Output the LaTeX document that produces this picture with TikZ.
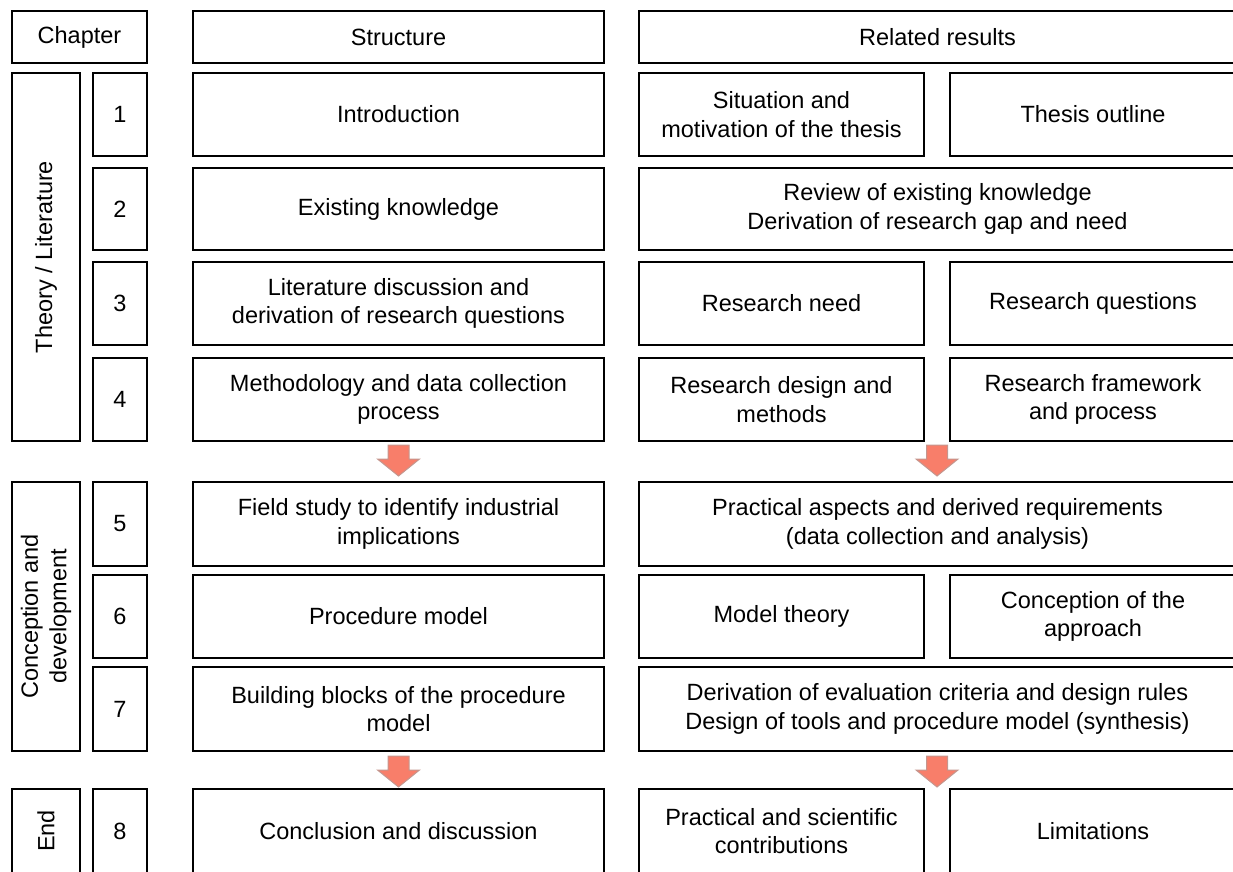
\documentclass[tikz,border=0pt]{standalone}
\usepackage{fontspec}
\setmainfont{Liberation Sans}
\begin{document}
\begin{tikzpicture}[x=1pt,y=-1pt,
  cellbox/.style={draw=black, line width=2.3pt, inner sep=0pt, align=center,
    font=\fontsize{23.5}{28.5}\selectfont},
  blockarrow/.style={fill={rgb,255:red,248;green,126;blue,106},
    draw={rgb,255:red,196;green,150;blue,142}, line width=1pt, line join=miter}]
\useasboundingbox (0,0) rectangle (1233,871);
\clip (0,0) rectangle (1233,871);

% cell{name}{x1}{y1}{x2}{y2}{text}
\newcommand\cell[6]{%
  \node[cellbox, minimum width={#4-#2}, minimum height={#5-#3}]
    (#1) at ({(#2+#4)/2},{(#3+#5)/2}) {#6};}
% vertical category box: text runs bottom to top
\newcommand\vcell[6]{%
  \node[cellbox, rotate=90, minimum width={#5-#3}, minimum height={#4-#2}]
    (#1) at ({(#2+#4)/2},{(#3+#5)/2}) {#6};}
% block arrow pointing down: centre x, top y
\newcommand\downblock[2]{%
  \draw[blockarrow] ({#1-10.5},#2) -- ({#1+10.5},#2) -- ({#1+10.5},{#2+14})
    -- ({#1+21},{#2+14}) -- (#1,{#2+31}) -- ({#1-21},{#2+14})
    -- ({#1-10.5},{#2+14}) -- cycle;}

% header row
\cell{hchap}{12}{11}{147}{63}{Chapter}
\cell{hstruct}{193}{11}{604}{63}{Structure}
\cell{hres}{639}{11}{1236}{63}{Related results}

% chapter groups
\vcell{gtheory}{12}{73}{80}{441}{Theory / Literature}
\vcell{gconc}{12}{482}{80}{751}{Conception and\\development}
\vcell{gend}{12}{789}{80}{873}{End}

% chapter numbers
\cell{n1}{93}{73}{147}{156}{1}
\cell{n2}{93}{168}{147}{250}{2}
\cell{n3}{93}{262}{147}{345}{3}
\cell{n4}{93}{358}{147}{441}{4}
\cell{n5}{93}{482}{147}{566}{5}
\cell{n6}{93}{575}{147}{658}{6}
\cell{n7}{93}{667}{147}{751}{7}
\cell{n8}{93}{789}{147}{873}{8}

% structure column
\cell{s1}{193}{73}{604}{156}{Introduction}
\cell{s2}{193}{168}{604}{250}{Existing knowledge}
\cell{s3}{193}{262}{604}{345}{Literature discussion and\\derivation of research questions}
\cell{s4}{193}{358}{604}{441}{Methodology and data collection\\process}
\cell{s5}{193}{482}{604}{566}{Field study to identify industrial\\implications}
\cell{s6}{193}{575}{604}{658}{Procedure model}
\cell{s7}{193}{667}{604}{751}{Building blocks of the procedure\\model}
\cell{s8}{193}{789}{604}{873}{Conclusion and discussion}

% related results column
\cell{r1a}{639}{73}{924}{156}{Situation and\\motivation of the thesis}
\cell{r1b}{950}{73}{1236}{156}{Thesis outline}
\cell{r2}{639}{168}{1236}{250}{Review of existing knowledge\\Derivation of research gap and need}
\cell{r3a}{639}{262}{924}{345}{Research need}
\cell{r3b}{950}{262}{1236}{345}{Research questions}
\cell{r4a}{639}{358}{924}{441}{Research design and\\methods}
\cell{r4b}{950}{358}{1236}{441}{Research framework\\and process}
\cell{r5}{639}{482}{1236}{566}{Practical aspects and derived requirements\\(data collection and analysis)}
\cell{r6a}{639}{575}{924}{658}{Model theory}
\cell{r6b}{950}{575}{1236}{658}{Conception of the\\approach}
\cell{r7}{639}{667}{1236}{751}{Derivation of evaluation criteria and design rules\\Design of tools and procedure model (synthesis)}
\cell{r8a}{639}{789}{924}{873}{Practical and scientific\\contributions}
\cell{r8b}{950}{789}{1236}{873}{Limitations}

% transitions between the groups
\downblock{398.5}{445}
\downblock{937}{445}
\downblock{398.5}{756}
\downblock{937}{756}
\end{tikzpicture}
\end{document}
